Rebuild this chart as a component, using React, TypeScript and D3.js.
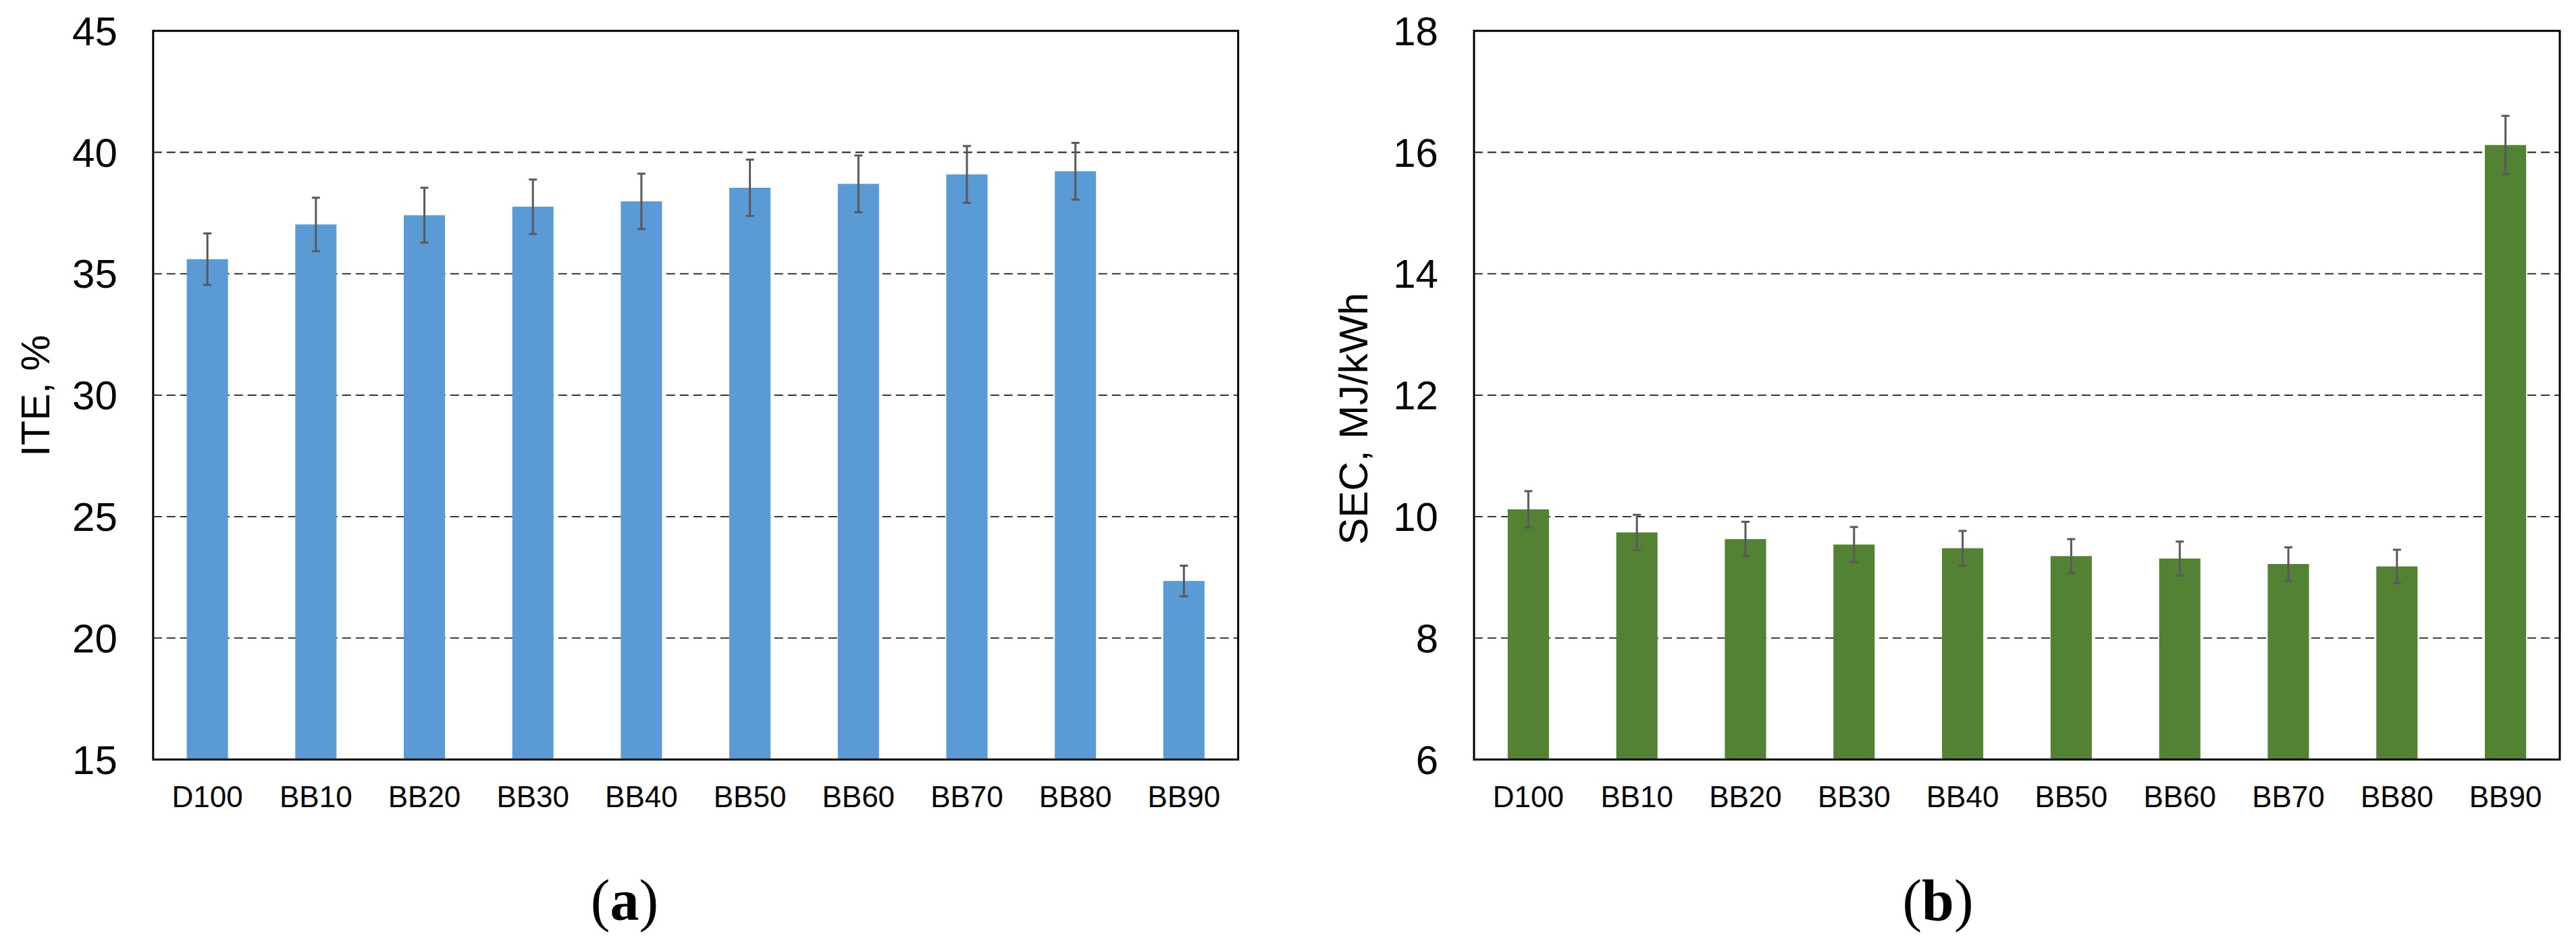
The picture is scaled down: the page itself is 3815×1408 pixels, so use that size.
import React from "react";
import * as d3 from "d3";

const categories = ["D100", "BB10", "BB20", "BB30", "BB40", "BB50", "BB60", "BB70", "BB80", "BB90"];
const iteValues = [35.6, 37.03, 37.41, 37.76, 37.98, 38.54, 38.7, 39.09, 39.22, 22.35];
const iteErrors = [1.06, 1.1, 1.13, 1.12, 1.14, 1.16, 1.17, 1.17, 1.17, 0.63];
const secValues = [10.12, 9.74, 9.63, 9.54, 9.48, 9.35, 9.31, 9.22, 9.18, 16.12];
const secErrors = [0.3, 0.29, 0.285, 0.29, 0.285, 0.28, 0.28, 0.275, 0.275, 0.48];
const iteTicks = [15, 20, 25, 30, 35, 40, 45];
const secTicks = [6, 8, 10, 12, 14, 16, 18];

const W = 3815;
const H = 1408;
const TOP = 45.7;
const BOTTOM = 1124.5;
const SANS = "'Liberation Sans', Arial, Helvetica, sans-serif";
const SERIF = "'Liberation Serif', 'Times New Roman', serif";

type PanelProps = {
  x0: number;
  x1: number;
  ticks: number[];
  values: number[];
  errors: number[];
  color: string;
  yLabel: string;
  yLabelX: number;
  yLabelY: number;
  caption: string;
  captionX: number;
};

function Panel(p: PanelProps) {
  const x = d3
    .scaleBand<string>()
    .domain(categories)
    .range([p.x0, p.x1])
    .paddingInner(0.62)
    .paddingOuter(0.31);
  const y = d3
    .scaleLinear()
    .domain([p.ticks[0], p.ticks[p.ticks.length - 1]])
    .range([BOTTOM, TOP]);
  const bw = x.bandwidth();
  const cap = 6;
  return (
    <g>
      {p.ticks.slice(1, -1).map((t) => (
        <line
          key={"g" + t}
          x1={p.x0}
          x2={p.x1}
          y1={y(t)}
          y2={y(t)}
          stroke="#1a1a1a"
          strokeWidth={1.8}
          strokeDasharray="13,7"
        />
      ))}
      {categories.map((c, i) => (
        <rect
          key={"b" + c}
          x={x(c)}
          y={y(p.values[i])}
          width={bw}
          height={BOTTOM - y(p.values[i])}
          fill={p.color}
        />
      ))}
      {categories.map((c, i) => {
        const cx = (x(c) as number) + bw / 2;
        const hi = y(p.values[i] + p.errors[i]);
        const lo = y(p.values[i] - p.errors[i]);
        return (
          <g key={"e" + c} stroke="#595959" strokeWidth={3}>
            <line x1={cx} x2={cx} y1={hi} y2={lo} />
            <line x1={cx - cap} x2={cx + cap} y1={hi} y2={hi} />
            <line x1={cx - cap} x2={cx + cap} y1={lo} y2={lo} />
          </g>
        );
      })}
      <rect
        x={p.x0}
        y={TOP}
        width={p.x1 - p.x0}
        height={BOTTOM - TOP}
        fill="none"
        stroke="#000"
        strokeWidth={3}
      />
      {p.ticks.map((t) => (
        <text
          key={"t" + t}
          x={p.x0 - 53}
          y={y(t) + 21}
          textAnchor="end"
          fontFamily={SANS}
          fontSize={60}
          fill="#000"
        >
          {t}
        </text>
      ))}
      {categories.map((c) => (
        <text
          key={"c" + c}
          x={(x(c) as number) + bw / 2}
          y={1195}
          textAnchor="middle"
          fontFamily={SANS}
          fontSize={44}
          fill="#000"
        >
          {c}
        </text>
      ))}
      <text
        transform={`translate(${p.yLabelX},${p.yLabelY}) rotate(-90)`}
        textAnchor="middle"
        fontFamily={SANS}
        fontSize={60}
        fill="#000"
      >
        {p.yLabel}
      </text>
      <text
        x={p.captionX}
        y={1362}
        textAnchor="middle"
        fontFamily={SERIF}
        fontSize={86}
        fill="#000"
      >
        (<tspan fontWeight="bold">{p.caption}</tspan>)
      </text>
    </g>
  );
}

export default function App() {
  return (
    <svg
      width={W}
      height={H}
      viewBox={`0 0 ${W} ${H}`}
      style={{ position: "absolute", left: 0, top: 0, display: "block", background: "#fff" }}
    >
      <rect x={0} y={0} width={W} height={H} fill="#fff" />
      <Panel
        x0={226.8}
        x1={1833.7}
        ticks={iteTicks}
        values={iteValues}
        errors={iteErrors}
        color="#5B9BD5"
        yLabel="ITE, %"
        yLabelX={73}
        yLabelY={586}
        caption="a"
        captionX={925}
      />
      <Panel
        x0={2183}
        x1={3791}
        ticks={secTicks}
        values={secValues}
        errors={secErrors}
        color="#548235"
        yLabel="SEC, MJ/kWh"
        yLabelX={2025}
        yLabelY={620}
        caption="b"
        captionX={2870}
      />
    </svg>
  );
}
